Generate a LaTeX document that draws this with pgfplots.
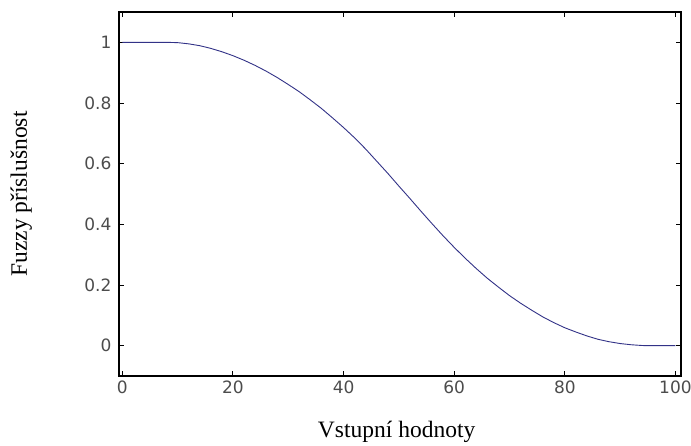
\documentclass[border=0pt]{standalone}
\usepackage{fontspec}
\setmainfont{Liberation Serif}
\newfontfamily\tickfont{DejaVu Sans}
\usepackage{pgfplots}
\pgfplotsset{compat=1.18}
\definecolor{linecol}{RGB}{50,50,135}
\begin{document}
\begin{tikzpicture}
\path[use as bounding box] (0pt,0pt) rectangle (691pt,445pt);
\begin{axis}[
  at={(119pt,69pt)}, anchor=south west,
  scale only axis, width=562pt, height=364pt,
  xmin=-0.6, xmax=101, ymin=-0.1, ymax=1.1,
  xtick={0,20,40,60,80,100},
  ytick={0,0.2,0.4,0.6,0.8,1},
  yticklabels={0,0.2,0.4,0.6,0.8,1},
  tick align=inside, tick pos=both,
  major tick length=5pt,
  axis line style={line width=1.2pt, black},
  every tick/.style={black, line width=0.9pt},
  /pgf/number format/assume math mode=true,
  tick label style={font=\fontsize{17}{20}\tickfont, text=black!70},
  yticklabel style={xshift=-4pt},
  xticklabel style={yshift=-1pt},
  xlabel={Vstupní hodnoty},
  ylabel={Fuzzy příslušnost},
  xlabel style={at={(axis description cs:0.494,-0.154)}, anchor=center, font=\fontsize{23.5}{27}\selectfont},
  ylabel style={at={(axis description cs:-0.174,0.5)}, anchor=center, rotate=0, font=\fontsize{23.5}{27}\selectfont},
]
\addplot[color=linecol, line width=0.9pt, mark=none] coordinates {
(0,1) (8,1) (10,0.999) (12,0.995) (14,0.989) (16,0.980) (18,0.969) (20,0.956)
(22,0.941) (24,0.924) (26,0.905) (28,0.884) (30,0.861) (32,0.837) (34,0.810)
(36,0.782) (38,0.751) (40,0.719) (42,0.685) (44,0.648) (46,0.608) (48,0.568)
(50,0.526) (52,0.485) (54,0.443) (56,0.402) (58,0.362) (60,0.324) (62,0.288)
(64,0.254) (66,0.222) (68,0.193) (70,0.165) (72,0.140) (74,0.117) (76,0.095)
(78,0.076) (80,0.059) (82,0.045) (84,0.032) (86,0.021) (88,0.013) (90,0.007)
(92,0.003) (94,0.0005) (95,0) (100,0)
};
\end{axis}
\end{tikzpicture}
\end{document}
